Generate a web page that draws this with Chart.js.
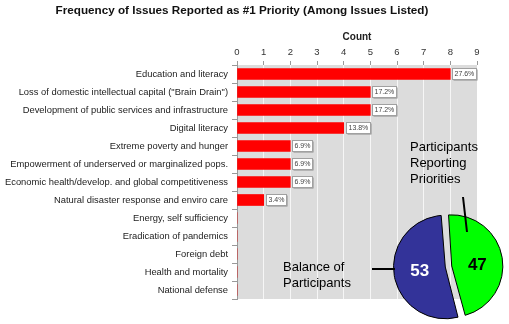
<!DOCTYPE html>
<html>
<head>
<meta charset="utf-8">
<script src="https://cdn.jsdelivr.net/npm/chart.js@4.4.1/dist/chart.umd.min.js"></script>
<style>
  body { margin: 0; background: #fff; }
  #wrap { position: relative; width: 509px; height: 324px; }
  #wrap canvas { position: absolute; left: 0; top: 0; }
</style>
</head>
<body>
<div id="wrap">
  <canvas id="bars" width="509" height="324"></canvas>
  <canvas id="pie" width="509" height="324"></canvas>
</div>
<script>
// issues, top to bottom
var issues = [
    'Education and literacy',
    'Loss of domestic intellectual capital ("Brain Drain")',
    'Development of public services and infrastructure',
    'Digital literacy',
    'Extreme poverty and hunger',
    'Empowerment of underserved or marginalized pops.',
    'Economic health/develop. and global competitiveness',
    'Natural disaster response and enviro care',
    'Energy, self sufficiency',
    'Eradication of pandemics',
    'Foreign debt',
    'Health and mortality',
    'National defense'
];
var counts = [8, 5, 5, 4, 2, 2, 2, 1, 0, 0, 0, 0, 0];
var countTicks = [0, 1, 2, 3, 4, 5, 6, 7, 8, 9];

var pieLabels = ['Participants Reporting Priorities', 'Balance of Participants'];
var pieValues = [47, 53];

var FONT = 'Liberation Sans, Arial, sans-serif';
var total = counts.reduce((a, b) => a + b, 0);

// grey plot background + title
var frame = {
    id: 'frame',
    beforeDraw: (chart) => {
        var a = chart.chartArea;
        var ctx = chart.ctx;
        ctx.save();
        ctx.fillStyle = '#dcdcdc';
        ctx.fillRect(a.left, a.top, a.right - a.left, a.bottom - a.top);
        ctx.fillStyle = '#111';
        ctx.font = 'bold 11.7px ' + FONT;
        ctx.textAlign = 'center';
        ctx.textBaseline = 'alphabetic';
        ctx.fillText('Frequency of Issues Reported as #1 Priority (Among Issues Listed)', 242, 14);
        ctx.restore();
    }
};

// percent boxes at the end of each bar
var pctLabels = {
    id: 'pctLabels',
    afterDatasetsDraw: (chart) => {
        var ctx = chart.ctx;
        var meta = chart.getDatasetMeta(0);
        ctx.save();
        ctx.font = '7px ' + FONT;
        ctx.textBaseline = 'middle';
        ctx.textAlign = 'left';
        meta.data.forEach((bar, i) => {
            if (!counts[i]) return;
            var txt = (counts[i] / total * 100).toFixed(1) + '%';
            var w = Math.round(ctx.measureText(txt).width) + 4;
            var x = Math.round(bar.x) + 2.5;
            var y = Math.round(bar.y) - 5.5;
            ctx.fillStyle = '#8a8a8a';
            ctx.fillRect(x + 1, y + 1, w, 11);
            ctx.fillStyle = '#fff';
            ctx.fillRect(x, y, w, 11);
            ctx.strokeStyle = '#a0a0a0';
            ctx.lineWidth = 1;
            ctx.strokeRect(x, y, w, 11);
            ctx.fillStyle = '#444';
            ctx.fillText(txt, x + 2, y + 6);
        });
        ctx.restore();
    }
};

new Chart(document.getElementById('bars'), {
    type: 'bar',
    data: {
        labels: issues,
        datasets: [{
            data: counts,
            backgroundColor: '#ff0000',
            borderWidth: 0,
            barThickness: 11
        }]
    },
    options: {
        indexAxis: 'y',
        responsive: false,
        animation: false,
        events: [],
        layout: { padding: { left: 0, right: 32, top: 0, bottom: 25 } },
        plugins: { legend: { display: false }, tooltip: { enabled: false } },
        scales: {
            x: {
                position: 'top',
                min: 0,
                max: 9,
                afterBuildTicks: (s) => { s.ticks = countTicks.map(v => ({ value: v })); },
                afterFit: (s) => { s.height = 65; },
                ticks: { font: { family: FONT, size: 9.5 }, color: '#333', padding: 3 },
                grid: { color: 'rgba(255,255,255,0.75)', tickColor: '#999', tickLength: 4 },
                border: { display: false },
                title: {
                    display: true,
                    text: 'Count',
                    color: '#222',
                    font: { family: FONT, size: 10, weight: 'bold' },
                    padding: { top: 31, bottom: 0 }
                }
            },
            y: {
                afterFit: (s) => { s.width = 237; },
                ticks: { font: { family: FONT, size: 9.4 }, color: '#222', padding: 4, autoSkip: false },
                grid: { offset: true, drawOnChartArea: false, tickLength: 5, tickColor: '#999' },
                border: { color: '#999' }
            }
        }
    },
    plugins: [frame, pctLabels]
});

// numbers inside the slices, callout text and leader lines
var pieText = {
    id: 'pieText',
    afterDraw: (chart) => {
        var ctx = chart.ctx;
        var arcs = chart.getDatasetMeta(0).data;
        ctx.save();
        ctx.font = 'bold 17px ' + FONT;
        ctx.textAlign = 'center';
        ctx.textBaseline = 'middle';
        var colors = ['#000', '#fff'];
        var nudge = [[-1.5, 3.5], [1.5, 0]];
        arcs.forEach((arc, i) => {
            var p = arc.getCenterPoint();
            ctx.fillStyle = colors[i];
            ctx.fillText(String(pieValues[i]), p.x + nudge[i][0], p.y + nudge[i][1]);
        });

        ctx.strokeStyle = '#000';
        ctx.lineWidth = 2;
        ctx.beginPath();
        ctx.moveTo(463, 197);
        ctx.lineTo(467, 232);
        ctx.moveTo(372, 269);
        ctx.lineTo(395, 269);
        ctx.stroke();

        ctx.fillStyle = '#000';
        ctx.font = '13px ' + FONT;
        ctx.textAlign = 'left';
        ctx.textBaseline = 'alphabetic';
        ['Participants', 'Reporting', 'Priorities'].forEach((t, i) => ctx.fillText(t, 410, 151 + i * 16));
        ['Balance of', 'Participants'].forEach((t, i) => ctx.fillText(t, 283, 271 + i * 15.5));
        ctx.restore();
    }
};

new Chart(document.getElementById('pie'), {
    type: 'pie',
    data: {
        labels: pieLabels,
        datasets: [{
            data: pieValues,
            backgroundColor: ['#00ff00', '#333399'],
            borderColor: '#000',
            borderWidth: 1,
            offset: 13
        }]
    },
    options: {
        responsive: false,
        animation: false,
        events: [],
        rotation: -4,
        radius: 48.5,
        layout: { padding: { left: 390, right: 2, top: 211, bottom: 2 } },
        plugins: { legend: { display: false }, tooltip: { enabled: false } }
    },
    plugins: [pieText]
});
</script>
</body>
</html>
